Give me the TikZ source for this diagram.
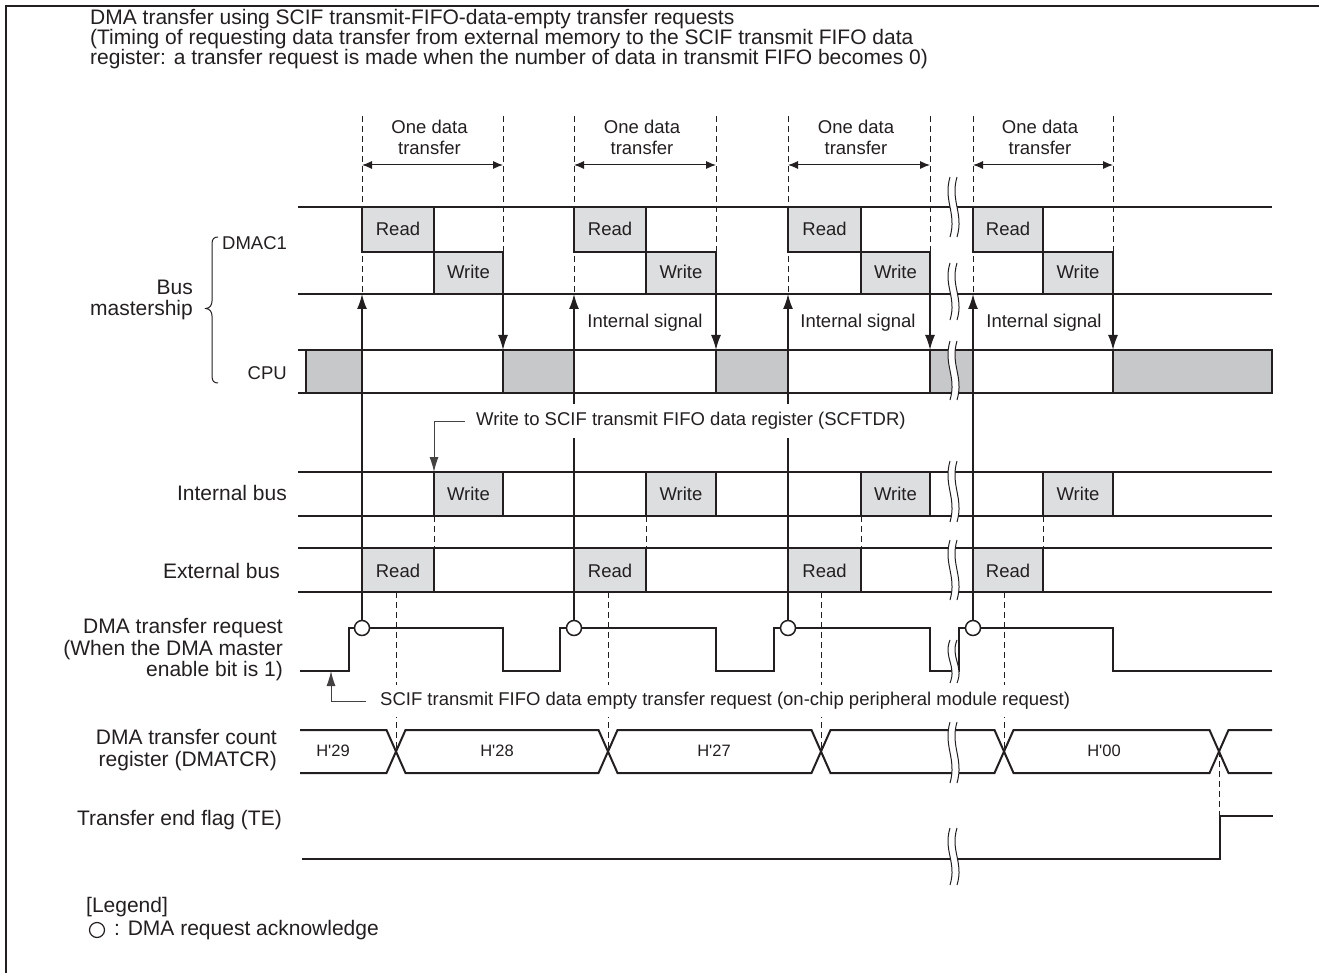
\documentclass[tikz,border=0pt]{standalone}
\usepackage{fontspec}
\setmainfont{Liberation Sans}
\usetikzlibrary{arrows.meta}
\definecolor{ink}{RGB}{35,31,32}
\definecolor{boxlight}{RGB}{221,222,224}
\definecolor{boxdark}{RGB}{199,200,202}
\tikzset{
  txt/.style={font=\fontsize{18.5}{21}\selectfont, text=ink, inner sep=0pt},
  bigtxt/.style={font=\fontsize{21}{21.5}\selectfont, text=ink, inner sep=0pt},
  valtxt/.style={font=\fontsize{16.5}{18}\selectfont, text=ink, inner sep=0pt},
  sig/.style={line width=2pt, draw=ink},
  thinln/.style={line width=1pt, draw=ink},
  brk/.style={line width=1pt, draw=ink},
  dsh/.style={line width=1pt, draw=ink, dash pattern=on 6pt off 4pt},
  rbox/.style={draw=ink, line width=2pt, fill=boxlight},
  cbox/.style={draw=ink, line width=2pt, fill=boxdark},
  varr/.style={line width=1.6pt, draw=ink, -{Latex[length=15pt,width=10pt]}},
  ann/.style={line width=1pt, draw=ink!85, -{Latex[length=15pt,width=9pt]}},
  ack/.style={circle, draw=ink, fill=white, line width=1.5pt, minimum size=15pt, inner sep=0pt},
}
\newcommand\brkmark[3]{%
  \begin{scope}[shift={(#1,#2)},yscale={(#3-#2)/60}]
    \fill[white] (0,0) .. controls (-7,24) and (7,36) .. (0,60) -- (7,60) .. controls (14,36) and (0,24) .. (7,0) -- cycle;
    \draw[brk] (0,0) .. controls (-7,24) and (7,36) .. (0,60);
    \draw[brk] (7,0) .. controls (0,24) and (14,36) .. (7,60);
  \end{scope}}
\begin{document}
\begin{tikzpicture}[x=1pt,y=-1pt]
\useasboundingbox (0,0) rectangle (1319,973);
\draw[line width=2.5pt,ink] (6,990) -- (6,6) -- (1330,6);

% title
\node[bigtxt, anchor=north west, align=left, font=\fontsize{21}{20}\selectfont] (title) at (90,9)
  {DMA transfer using SCIF transmit-FIFO-data-empty transfer requests\\
   (Timing of requesting data transfer from external memory to the SCIF transmit FIFO data\\
   register: a transfer request is made when the number of data in transmit FIFO becomes 0)};

% top dashed guide lines
\foreach \x in {362,503,574,716,788,930,973,1113} \draw[dsh] (\x,116) -- (\x,294);

% one data transfer
\foreach \s/\e [count=\i] in {362/503,574/716,788/930,973/1113}{
  \node[txt, align=center] (odt\i) at ({(\s+\e)/2-3},137.5) {One data\\transfer};
  \coordinate (ol\i) at (\s,165);
  \coordinate (or\i) at (\e,165);
  \draw[thinln, {Latex[length=10pt,width=8pt]}-{Latex[length=10pt,width=8pt]}] (ol\i) -- (or\i);
}

% DMAC1 row
\draw[sig] (298,207) -- (1272,207);
\draw[sig] (298,294) -- (1272,294);
\foreach \s/\m/\e [count=\i] in {362/434/503,574/646/716,788/861/930,973/1043/1113}{
  \draw[rbox] (\s,207) rectangle (\m,252);
  \node[txt] (dr\i) at ({(\s+\m)/2},229) {Read};
  \draw[rbox] (\m,252) rectangle (\e,294);
  \node[txt] (dw\i) at ({(\m+\e)/2},272) {Write};
}

% CPU row
\foreach \a/\b in {306/362,503/574,716/788,930/973,1113/1272} \draw[cbox] (\a,350) rectangle (\b,393);
\draw[sig] (298,350) -- (1272,350);
\draw[sig] (298,393) -- (1272,393);

% internal bus
\draw[sig] (298,472) -- (1272,472);
\draw[sig] (298,516) -- (1272,516);
% external bus
\draw[sig] (298,548) -- (1272,548);
\draw[sig] (298,592) -- (1272,592);
\foreach \s/\m/\e [count=\i] in {362/434/503,574/646/716,788/861/930,973/1043/1113}{
  \draw[rbox] (\m,472) rectangle (\e,516);
  \node[txt] (iw\i) at ({(\m+\e)/2},494) {Write};
  \draw[rbox] (\s,548) rectangle (\m,592);
  \node[txt] (er\i) at ({(\s+\m)/2},571) {Read};
  \draw[dsh] (\m,516) -- (\m,548);
}

% dashed lines to DMATCR
\foreach \x in {396,608,821,1004} \draw[dsh] (\x,592) -- (\x,751);
\draw[dsh] (1219,751) -- (1219,816);

% DMA transfer request waveform
\draw[sig] (300,671) -- (349,671) -- (349,628) -- (503,628) -- (503,671) -- (560,671) -- (560,628)
  -- (716,628) -- (716,671) -- (774,671) -- (774,628) -- (930,628) -- (930,671) -- (959,671)
  -- (959,628) -- (1113,628) -- (1113,671) -- (1272,671);

% acknowledge circles and up arrows
\foreach \x [count=\i] in {362,574,788,973}{
  \node[ack] (ack\i) at (\x,628) {};
  \coordinate (up\i) at (\x,294);
  \draw[varr] (ack\i.north) -- (up\i);
}
% down arrows
\foreach \x [count=\i] in {503,716,930,1113}{
  \coordinate (dt\i) at (\x,294);
  \coordinate (db\i) at (\x,350);
  \draw[varr] (dt\i) -- (db\i);
}
\node[txt] (is1) at (645,323) {Internal signal};
\node[txt] (is2) at (858,323) {Internal signal};
\node[txt] (is3) at (1044,323) {Internal signal};

% write to SCFTDR annotation
\node[txt, fill=white, anchor=west, inner xsep=3pt, inner ysep=8pt] (wscif) at (473,421)
  {Write to SCIF transmit FIFO data register (SCFTDR)};
\coordinate (wtip) at (434,472);
\draw[ann] ([xshift=-8pt]wscif.west) -| (wtip);

% SCIF request annotation
\node[txt, fill=white, anchor=west, inner xsep=3pt, inner ysep=7pt] (sreq) at (377,701)
  {SCIF transmit FIFO data empty transfer request (on-chip peripheral module request)};
\coordinate (stip) at (331,671);
\draw[ann] ([xshift=-11pt]sreq.west) -| (stip);

% DMATCR
\draw[sig] (300,730) -- (386.5,730) -- (405.5,773) -- (598.5,773) -- (617.5,730) -- (811.5,730)
  -- (830.5,773) -- (994.5,773) -- (1013.5,730) -- (1209.5,730) -- (1228.5,773) -- (1272,773);
\draw[sig] (300,773) -- (386.5,773) -- (405.5,730) -- (598.5,730) -- (617.5,773) -- (811.5,773)
  -- (830.5,730) -- (994.5,730) -- (1013.5,773) -- (1209.5,773) -- (1228.5,730) -- (1272,730);
\node[valtxt] (h29) at (333,751) {H\textquotesingle29};
\node[valtxt] (h28) at (497,751) {H\textquotesingle28};
\node[valtxt] (h27) at (714,751) {H\textquotesingle27};
\node[valtxt] (h00) at (1104,751) {H\textquotesingle00};

% TE
\draw[sig] (302,859) -- (1220,859) -- (1220,816) -- (1273,816);

% break marks
\brkmark{950}{177}{237}
\brkmark{950}{263}{320}
\brkmark{950}{341}{400}
\brkmark{950}{461}{522}
\brkmark{950}{540}{600}
\brkmark{950}{640}{683}
\brkmark{950}{722}{783}
\brkmark{950}{828}{885}

% left labels
\node[txt, anchor=west] (dmac) at (222,243) {DMAC1};
\node[bigtxt, anchor=east, align=right] (busm) at (193,300) {Bus\\mastership};
\draw[thinln] (218,237) .. controls (214,237) and (212,239) .. (212,244) -- (212,301)
  .. controls (212,305) and (210,308) .. (206,308.5)
  .. controls (210,309) and (212,312) .. (212,316) -- (212,376)
  .. controls (212,381) and (214,383) .. (218,383);
\node[txt, anchor=east] (cpu) at (287,373) {CPU};
\node[bigtxt, anchor=east] (ibus) at (287,493) {Internal bus};
\node[bigtxt, anchor=east] (ebus) at (280,571) {External bus};
\node[bigtxt, anchor=east, align=right] (dreq) at (283,650) {DMA transfer request\\(When the DMA master\\enable bit is 1)};
\node[bigtxt, anchor=east, align=right] (dtcr) at (277,750) {DMA transfer count\\register (DMATCR)};
\node[bigtxt, anchor=east] (tef) at (282,820) {Transfer end flag (TE)};

% legend
\node[bigtxt, anchor=west] (leg) at (86,907) {[Legend]};
\node[circle, draw=ink, line width=1.2pt, minimum size=15pt, inner sep=0pt] (legc) at (97,930) {};
\node[bigtxt, anchor=west] (legt) at (114,930) {: DMA request acknowledge};
\end{tikzpicture}
\end{document}
